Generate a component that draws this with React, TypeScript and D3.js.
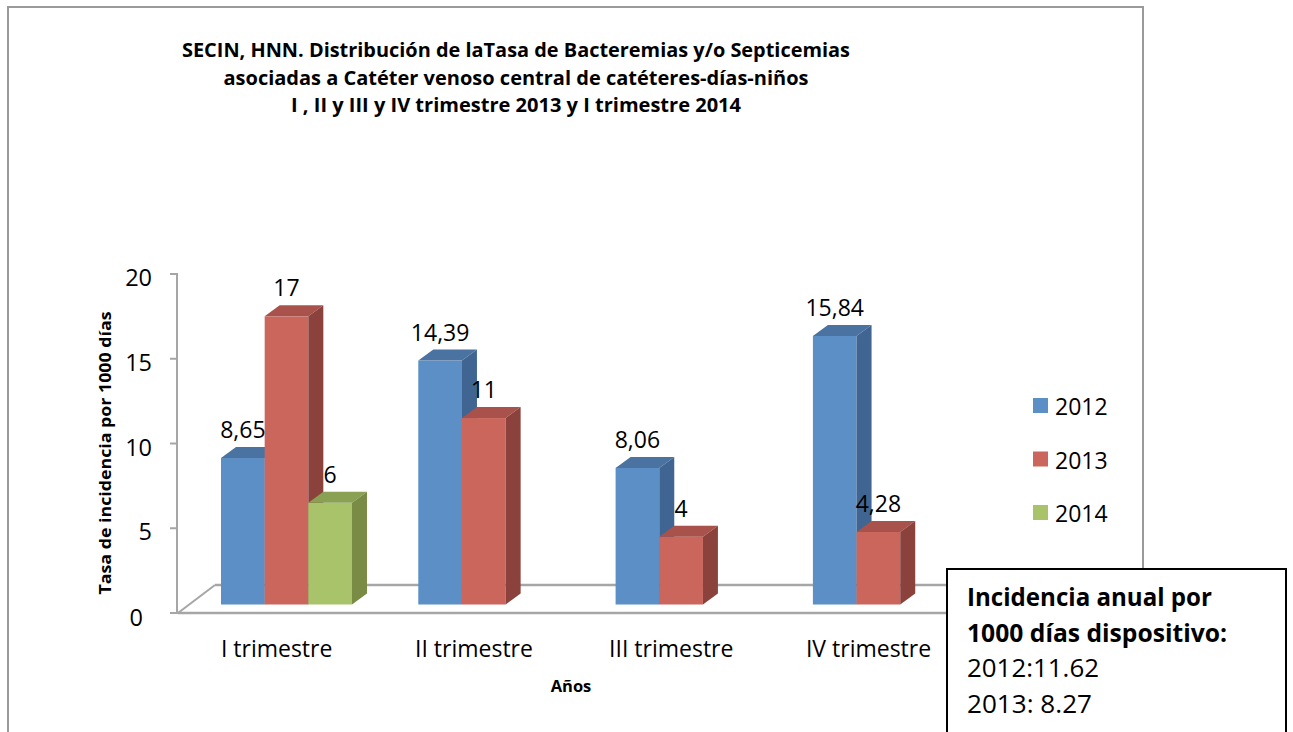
import React from "react";
import * as d3 from "d3";

const categories = ["I trimestre", "II trimestre", "III trimestre", "IV trimestre"];
const seriesNames = ["2012", "2013", "2014"];
const values2012 = [8.65, 14.39, 8.06, 15.84];
const values2013 = [17, 11, 4, 4.28];
const values2014: (number | null)[] = [6, null, null, null];
const yTicks = [0, 5, 10, 15, 20];
const titleLines = [
  "SECIN, HNN. Distribución de laTasa de Bacteremias y/o Septicemias",
  "asociadas a Catéter venoso central  de catéteres-días-niños",
  "I , II y III y IV trimestre 2013 y I trimestre 2014",
];
const boxLines = [
  "Incidencia anual por",
  "1000 días dispositivo:",
  "2012:11.62",
  "2013: 8.27",
];

const seriesValues = [values2012, values2013, values2014];
const palette = [
  { front: "#5B8FC6", top: "#4B73A1", side: "#416592" },
  { front: "#CB665D", top: "#A8524B", side: "#8B423C" },
  { front: "#A9C36B", top: "#8AA154", side: "#7A8B46" },
];

const FONT = "'Open Sans', 'Noto Sans', sans-serif";

function fmt(v: number) {
  return String(v).replace(".", ",");
}

export default function App() {
  const W = 1293;
  const H = 732;
  const plotLeft = 178;
  const bandW = 197.3;
  const x = d3
    .scaleBand<string>()
    .domain(categories)
    .range([plotLeft, plotLeft + bandW * categories.length])
    .padding(0);
  const sub = d3.scaleBand<string>().domain(seriesNames).range([43, 43 + 131]).padding(0);
  const yAxis = d3.scaleLinear().domain([0, 20]).range([613, 274]);
  const yBar = d3.scaleLinear().domain([0, 20]).range([604.5, 604.5 - 339]);
  const dx = 15;
  const dy = -11;
  const floorDx = 37;
  const floorDy = -28;
  const gridColor = "#A6A6A6";
  const plotRight = plotLeft + bandW * categories.length;

  const bars: JSX.Element[] = [];
  categories.forEach((c, ci) => {
    seriesNames.forEach((s, si) => {
      const v = seriesValues[si][ci];
      if (v == null) return;
      const x0 = (x(c) as number) + (sub(s) as number);
      const w = sub.bandwidth();
      const y0 = yBar(0);
      const y1 = yBar(v);
      const col = palette[si];
      bars.push(
        <g key={`${c}-${s}`}>
          <rect x={x0} y={y1} width={w} height={y0 - y1} fill={col.front} />
          <polygon
            points={`${x0},${y1} ${x0 + w},${y1} ${x0 + w + dx},${y1 + dy} ${x0 + dx},${y1 + dy}`}
            fill={col.top}
          />
          <polygon
            points={`${x0 + w},${y1} ${x0 + w + dx},${y1 + dy} ${x0 + w + dx},${y0 + dy} ${x0 + w},${y0}`}
            fill={col.side}
          />
        </g>
      );
    });
  });

  const labels: JSX.Element[] = [];
  categories.forEach((c, ci) => {
    seriesNames.forEach((s, si) => {
      const v = seriesValues[si][ci];
      if (v == null) return;
      const x0 = (x(c) as number) + (sub(s) as number);
      const w = sub.bandwidth();
      labels.push(
        <text
          key={`l-${c}-${s}`}
          x={x0 + w / 2}
          y={yBar(v) - 20}
          textAnchor="middle"
          fontSize={23}
          fill="#000"
        >
          {fmt(v)}
        </text>
      );
    });
  });

  return (
    <svg
      width={W}
      height={H}
      style={{ position: "absolute", left: 0, top: 0, background: "#fff" }}
      fontFamily={FONT}
    >
      <rect x={0} y={0} width={W} height={H} fill="#fff" />
      {/* outer chart border */}
      <rect x={8} y={7} width={1135} height={800} fill="none" stroke="#9A9A9A" strokeWidth={2} />

      {/* title */}
      {titleLines.map((t, i) => {
        const lens = [668, 585, 450];
        return (
          <text
            key={i}
            x={516}
            y={57 + i * 27.5}
            textAnchor="middle"
            fontSize={19}
            fontWeight="bold"
            textLength={lens[i]}
            lengthAdjust="spacingAndGlyphs"
          >
            {t}
          </text>
        );
      })}

      {/* floor */}
      <line x1={plotLeft} y1={613} x2={plotRight} y2={613} stroke={gridColor} strokeWidth={2.5} />
      <line
        x1={plotLeft + floorDx}
        y1={613 + floorDy}
        x2={plotRight + floorDx}
        y2={613 + floorDy}
        stroke={gridColor}
        strokeWidth={2.5}
      />
      <line x1={plotLeft} y1={613} x2={plotLeft + floorDx} y2={613 + floorDy} stroke={gridColor} strokeWidth={2} />

      {/* y axis */}
      <line x1={plotLeft - 1} y1={yAxis(20)} x2={plotLeft - 1} y2={yAxis(0)} stroke={gridColor} strokeWidth={2} />
      {yTicks.map((t) => (
        <g key={t}>
          <line x1={170} y1={yAxis(t)} x2={plotLeft} y2={yAxis(t)} stroke={gridColor} strokeWidth={2} />
          <text
            x={t === 0 ? 143 : 152}
            y={yAxis(t) + (t === 0 ? 4 : 3)}
            textAnchor="end"
            dominantBaseline="central"
            fontSize={23.5}
          >
            {t}
          </text>
        </g>
      ))}

      {bars}
      {labels}

      {/* category labels */}
      {categories.map((c) => (
        <text
          key={c}
          x={(x(c) as number) + x.bandwidth() / 2}
          y={657}
          textAnchor="middle"
          fontSize={23}
        >
          {c}
        </text>
      ))}

      {/* axis titles */}
      <text x={571} y={692} textAnchor="middle" fontSize={16.5} fontWeight="bold">
        Años
      </text>
      <text
        transform={`translate(111,453) rotate(-90)`}
        textAnchor="middle"
        fontSize={15.5}
        fontWeight="bold"
        textLength={283}
        lengthAdjust="spacingAndGlyphs"
      >
        Tasa de incidencia por 1000 días
      </text>

      {/* legend */}
      {seriesNames.map((s, i) => (
        <g key={s} transform={`translate(1033, ${398 + i * 53.5})`}>
          <rect x={0} y={0} width={15} height={15} fill={palette[i].front} />
          <text x={22} y={17} fontSize={23}>
            {s}
          </text>
        </g>
      ))}

      {/* annotation box */}
      <rect x={947} y={569} width={339} height={220} fill="#fff" stroke="#000" strokeWidth={2} />
      {boxLines.map((t, i) => {
        const bold = i < 2;
        const lens = [245, 260, 132, 125];
        return (
          <text
            key={i}
            x={967}
            y={606 + i * 35.7}
            fontSize={25}
            fontWeight={bold ? "bold" : "normal"}
            textLength={lens[i]}
            lengthAdjust="spacingAndGlyphs"
          >
            {t}
          </text>
        );
      })}
    </svg>
  );
}
